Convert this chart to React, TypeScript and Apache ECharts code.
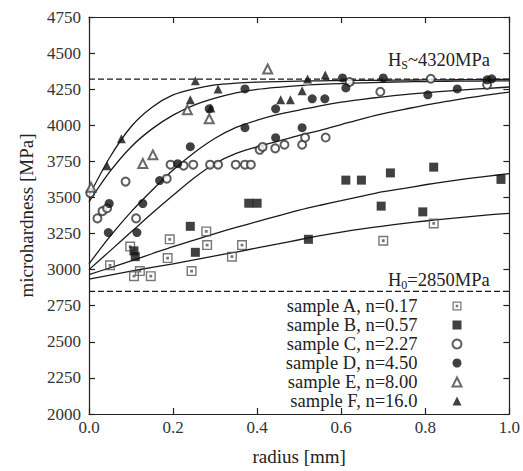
import React, { useEffect, useRef } from "react";
import * as echarts from "echarts";

const FONT = "Liberation Serif";

const legendNames = [
  "sample A, n=0.17",
  "sample B, n=0.57",
  "sample C, n=2.27",
  "sample D, n=4.50",
  "sample E, n=8.00",
  "sample F, n=16.0",
];

const sampleA: [number, number][] = [
  [0.05, 3030], [0.098, 3160], [0.107, 2955], [0.121, 2990], [0.147, 2955],
  [0.187, 3080], [0.192, 3210], [0.244, 2990], [0.279, 3265], [0.281, 3170],
  [0.34, 3090], [0.364, 3170], [0.7, 3200], [0.82, 3320],
];
const sampleB: [number, number][] = [
  [0.107, 3130], [0.11, 3090], [0.241, 3300], [0.253, 3120], [0.38, 3460],
  [0.4, 3460], [0.522, 3210], [0.611, 3620], [0.648, 3620], [0.695, 3440],
  [0.717, 3670], [0.794, 3400], [0.82, 3710], [0.98, 3625],
];
const sampleC: [number, number][] = [
  [0.003, 3530], [0.02, 3355], [0.032, 3405], [0.043, 3425], [0.087, 3610],
  [0.112, 3355], [0.185, 3630], [0.194, 3727], [0.225, 3720], [0.248, 3727],
  [0.288, 3727], [0.307, 3727], [0.349, 3727], [0.371, 3727], [0.385, 3727],
  [0.406, 3830], [0.413, 3850], [0.443, 3840], [0.465, 3865], [0.507, 3865],
  [0.514, 3915], [0.563, 3915], [0.62, 4300], [0.693, 4232], [0.813, 4322],
  [0.947, 4280],
];
const sampleD: [number, number][] = [
  [0.046, 3257], [0.048, 3458], [0.114, 3257], [0.128, 3458], [0.168, 3617],
  [0.211, 3734], [0.241, 3852], [0.286, 4114], [0.371, 3983], [0.371, 4252],
  [0.444, 3914], [0.444, 4114], [0.507, 3983], [0.531, 4183], [0.561, 4183],
  [0.603, 4328], [0.611, 4259], [0.7, 4328], [0.806, 4211], [0.876, 4252],
  [0.947, 4315], [0.958, 4322],
];
const sampleE: [number, number][] = [
  [0.005, 3570], [0.128, 3735], [0.152, 3795], [0.234, 4107], [0.286, 4045],
  [0.425, 4390],
];
const sampleF: [number, number][] = [
  [0.043, 3720], [0.077, 3907], [0.241, 4176], [0.253, 4308], [0.29, 4120],
  [0.307, 4252], [0.456, 4176], [0.479, 4176], [0.507, 4240], [0.52, 4320],
  [0.562, 4349],
];

// fitted curves at radius = 0, 0.05, ..., 1.0
const curveX = [
  0, 0.05, 0.1, 0.15, 0.2, 0.25, 0.3, 0.35, 0.4, 0.45, 0.5,
  0.55, 0.6, 0.65, 0.7, 0.75, 0.8, 0.85, 0.9, 0.95, 1.0,
];
const curveA = [
  2935, 2962, 2990, 3015, 3040, 3068, 3095, 3122, 3150, 3178, 3207,
  3235, 3260, 3282, 3302, 3320, 3337, 3352, 3366, 3379, 3390,
];
const curveB = [
  2965, 3013, 3060, 3110, 3160, 3205, 3250, 3292, 3333, 3373, 3412,
  3446, 3478, 3510, 3540, 3563, 3588, 3610, 3630, 3648, 3665,
];
const curveC = [
  3000, 3130, 3260, 3390, 3515, 3635, 3735, 3805, 3850, 3890, 3930,
  3965, 4005, 4045, 4080, 4110, 4140, 4165, 4190, 4210, 4230,
];
const curveD = [
  3040, 3230, 3400, 3550, 3690, 3810, 3910, 3985, 4035, 4075, 4105,
  4135, 4160, 4180, 4197, 4212, 4225, 4237, 4247, 4256, 4265,
];
const curveE = [
  3470, 3680, 3850, 3975, 4070, 4140, 4188, 4225, 4248, 4263, 4275,
  4283, 4289, 4294, 4298, 4301, 4303, 4305, 4306, 4307, 4308,
];
const curveF = [
  3510, 3780, 3990, 4125, 4210, 4252, 4280, 4292, 4299, 4303, 4306,
  4308, 4310, 4311, 4312, 4313, 4314, 4315, 4316, 4317, 4318,
];

const hSat = 4320;
const h0 = 2850;
const xRange = [0, 1];
const yRange = [2000, 4750];

const squareDot = "path://M0,0H10V10H0Z M1.4,1.4V8.6H8.6V1.4Z M3.6,3.6H6.4V6.4H3.6Z";

export default function App() {
  const ref = useRef<HTMLDivElement>(null);

  useEffect(() => {
    if (!ref.current) return;
    const chart = echarts.init(ref.current, undefined, { renderer: "svg" });

    const curveSeries = [curveA, curveB, curveC, curveD, curveE, curveF].map((c, i) => ({
      name: "fit" + i,
      type: "line",
      data: curveX.map((x, j) => [x, c[j]]),
      smooth: 0.3,
      showSymbol: false,
      silent: true,
      z: 2,
      lineStyle: { color: "#1a1a1a", width: 1.3 },
    }));

    const refLine = (v: number) => ({
      name: "ref" + v,
      type: "line",
      data: [[xRange[0], v], [xRange[1], v]],
      showSymbol: false,
      silent: true,
      z: 1,
      lineStyle: { color: "#1a1a1a", width: 1.3, type: [6, 3] },
    });

    const scatterDefs = [
      { data: sampleA, symbol: squareDot, size: 10, color: "#555" },
      { data: sampleB, symbol: "rect", size: 9, color: "#111" },
      { data: sampleC, symbol: "emptyCircle", size: 8, color: "#333" },
      { data: sampleD, symbol: "circle", size: 9, color: "#111" },
      { data: sampleE, symbol: "emptyTriangle", size: 9, color: "#444" },
      { data: sampleF, symbol: "triangle", size: 9, color: "#111" },
    ];

    const scatterSeries = scatterDefs.map((d, i) => ({
      name: legendNames[i],
      type: "scatter",
      data: d.data,
      symbol: d.symbol,
      symbolSize: d.size,
      z: 3,
      itemStyle: {
        color: d.color,
        borderColor: d.color,
        borderWidth: d.symbol.startsWith("empty") ? 1.1 : 0,
      },
    }));

    const axisCommon = {
      axisLine: { show: true, onZero: false, lineStyle: { color: "#222", width: 1.2 } },
      axisTick: { show: true, inside: true, length: 6, lineStyle: { color: "#222", width: 1.2 } },
      splitLine: { show: false },
    };

    chart.setOption({
      animation: false,
      backgroundColor: "#fff",
      textStyle: { fontFamily: FONT },
      grid: { left: 89, right: 8, top: 17, bottom: 55 },
      xAxis: [
        {
          type: "value",
          min: xRange[0],
          max: xRange[1],
          interval: 0.2,
          position: "bottom",
          name: "radius [mm]",
          nameLocation: "middle",
          nameGap: 33,
          nameTextStyle: { fontFamily: FONT, fontSize: 19, color: "#222" },
          ...axisCommon,
          axisLabel: {
            margin: 5,
            fontFamily: FONT,
            fontSize: 17,
            color: "#333",
            formatter: (v: number) => v.toFixed(1),
          },
        },
        {
          type: "value",
          min: xRange[0],
          max: xRange[1],
          interval: 0.2,
          position: "top",
          ...axisCommon,
          axisLabel: { show: false },
        },
      ],
      yAxis: [
        {
          type: "value",
          min: yRange[0],
          max: yRange[1],
          interval: 250,
          position: "left",
          name: "microhardness [MPa]",
          nameLocation: "middle",
          nameGap: 46,
          nameTextStyle: { fontFamily: FONT, fontSize: 19, color: "#222" },
          ...axisCommon,
          axisLabel: {
            margin: 8,
            fontFamily: FONT,
            fontSize: 17,
            color: "#333",
            formatter: (v: number) => String(v),
          },
        },
        {
          type: "value",
          min: yRange[0],
          max: yRange[1],
          interval: 250,
          position: "right",
          ...axisCommon,
          axisLabel: { show: false },
        },
      ],
      legend: {
        data: legendNames,
        orient: "vertical",
        align: "right",
        right: 60.5,
        top: 296.5,
        padding: 0,
        itemGap: 0,
        itemWidth: 9,
        itemHeight: 9,
        selectedMode: false,
        formatter: (name: string) => `{t|${name}}`,
        textStyle: {
          fontFamily: FONT,
          color: "#222",
          rich: {
            t: {
              fontFamily: FONT,
              fontSize: 18.5,
              lineHeight: 19,
              width: 160,
              align: "right",
              padding: [0, 30, 0, 0],
              color: "#222",
            },
          },
        },
      },
      graphic: [
        {
          type: "text",
          x: 388,
          y: 60,
          style: {
            text: "{a|H}{s|S}{a|~4320MPa}",
            verticalAlign: "middle",
            fill: "#222",
            rich: {
              a: { fontFamily: FONT, fontSize: 18.5, lineHeight: 22, verticalAlign: "middle", fill: "#222" },
              s: { fontFamily: FONT, fontSize: 12, lineHeight: 12, verticalAlign: "bottom", fill: "#222" },
            },
          },
        },
        {
          type: "text",
          x: 388,
          y: 280,
          style: {
            text: "{a|H}{s|0}{a|=2850MPa}",
            verticalAlign: "middle",
            fill: "#222",
            rich: {
              a: { fontFamily: FONT, fontSize: 18.5, lineHeight: 22, verticalAlign: "middle", fill: "#222" },
              s: { fontFamily: FONT, fontSize: 12, lineHeight: 12, verticalAlign: "bottom", fill: "#222" },
            },
          },
        },
      ],
      series: [refLine(hSat), refLine(h0), ...curveSeries, ...scatterSeries],
    });

    return () => chart.dispose();
  }, []);

  return (
    <div
      ref={ref}
      style={{ position: "absolute", left: 0, top: 0, width: 523, height: 471 }}
    />
  );
}
